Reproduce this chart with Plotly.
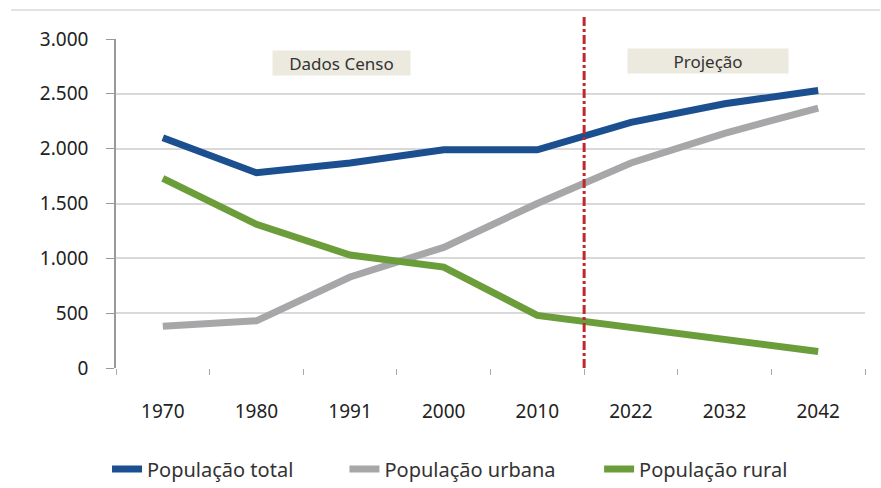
import plotly.graph_objects as go

# Population (thousands) – census years and projections
anos = ["1970", "1980", "1991", "2000", "2010", "2022", "2032", "2042"]
pop_total = [2100, 1780, 1870, 1990, 1990, 2240, 2410, 2530]
pop_urbana = [380, 430, 830, 1100, 1500, 1870, 2140, 2370]
pop_rural = [1730, 1310, 1030, 920, 480, 375, 270, 150]

y_ticks = [0, 500, 1000, 1500, 2000, 2500, 3000]
y_labels = ["0", "500", "1.000", "1.500", "2.000", "2.500", "3.000"]

FONT = "Noto Sans"

fig = go.Figure()
series = [
    ("População total", pop_total, "#1c4f8f", "legend", -0.012),
    ("População urbana", pop_urbana, "#a7a7aa", "legend2", 0.305),
    ("População rural", pop_rural, "#6b9e3a", "legend3", 0.645),
]
legend_cfg = {}
for nome, vals, cor, leg, lx in series:
    fig.add_trace(go.Scatter(
        x=anos, y=vals, name=nome, mode="lines",
        line=dict(color=cor, width=7), legend=leg,
    ))
    legend_cfg[leg] = dict(
        orientation="h", x=lx, xanchor="left", y=-0.307, yanchor="middle",
        font=dict(family=FONT, size=20, color="#333333"),
        bgcolor="rgba(0,0,0,0)", itemwidth=30,
    )

# Divider between census data and projection
fig.add_shape(type="line", xref="x", yref="paper",
              x0=4.5, x1=4.5, y0=0, y1=1.075,
              line=dict(color="#c1272d", width=3, dash="dashdot"))

# Thin frame line along the top
fig.add_shape(type="line", xref="paper", yref="paper",
              x0=-0.14, x1=1.02, y0=1.088, y1=1.088,
              line=dict(color="#e2e2e2", width=2))

for txt, xc, yc, w in [("Dados Censo", 1.91, 2780, 1.45), ("Projeção", 5.82, 2800, 1.7)]:
    fig.add_annotation(
        x=xc, y=yc, xref="x", yref="y", text=txt, showarrow=False,
        font=dict(family=FONT, size=17, color="#333333"),
        bgcolor="#ece9df", width=w * 93, height=22,
    )

fig.update_layout(
    width=881, height=488,
    margin=dict(l=116, r=16, t=39, b=120, autoexpand=False),
    paper_bgcolor="white", plot_bgcolor="white",
    font=dict(family=FONT, color="#333333"),
    showlegend=True,
    **legend_cfg,
    xaxis=dict(type="category", tickson="boundaries", ticks="outside",
               ticklen=6, tickcolor="#aaaaaa", showgrid=False,
               showline=False, zeroline=False,
               tickfont=dict(family=FONT, size=19, color="#222222"),
               ticklabelstandoff=30, range=[-0.5, 7.5]),
    yaxis=dict(range=[0, 3000], tickvals=y_ticks, ticktext=y_labels,
               ticks="outside", ticklen=8, tickcolor="#999999",
               showline=True, linecolor="#999999", linewidth=1.5,
               showgrid=True, gridcolor="#d9d9d9", gridwidth=1.5,
               zeroline=False,
               tickfont=dict(family=FONT, size=19, color="#222222"),
               ticklabelstandoff=14),
)

fig.write_html("out.html")
